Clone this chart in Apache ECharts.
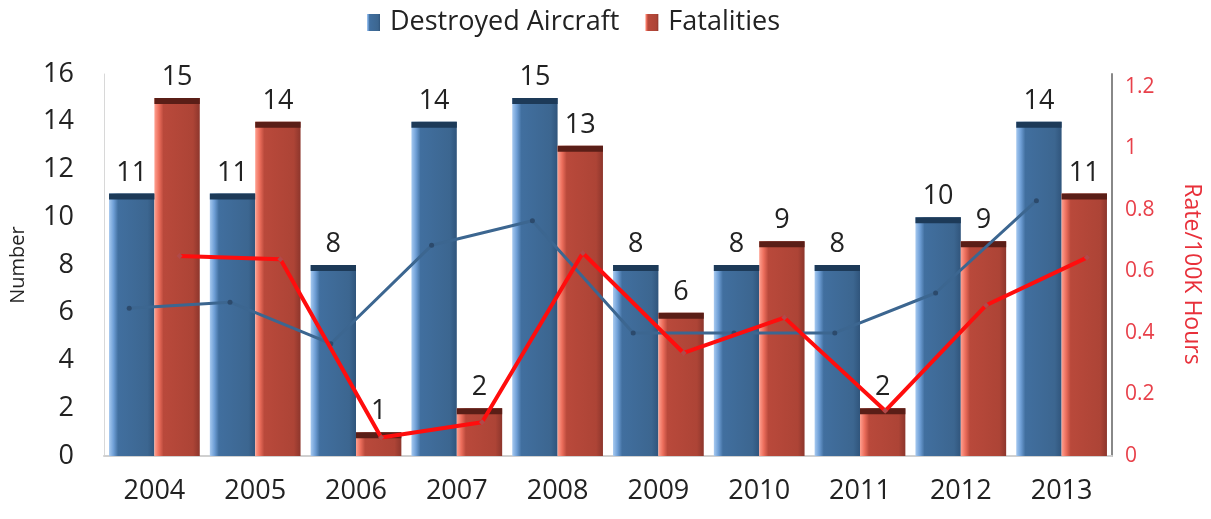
<!DOCTYPE html>
<html><head><meta charset="utf-8">
<script src="https://cdn.jsdelivr.net/npm/echarts@6/dist/echarts.min.js"></script>
<style>html,body{margin:0;padding:0;background:#fff}#c{width:1211px;height:519px}</style>
</head><body><div id="c"></div>
<script>
const years = ['2004','2005','2006','2007','2008','2009','2010','2011','2012','2013'];
const destroyed = [11,11,8,14,15,8,8,8,10,14];
const fatalities = [15,14,1,2,13,6,9,2,9,11];
const destroyedRate = [0.48,0.50,0.365,0.685,0.765,0.40,0.40,0.40,0.53,0.83];
const fatalRate = [0.65,0.64,0.06,0.11,0.66,0.335,0.45,0.147,0.49,0.645];
const leftTicks = {min:0, max:16, interval:2};
const rightTicks = {min:0, interval:0.2};

const slots = [];
const blueLine = [];
const redLine = [];
years.forEach((y,i)=>{
  slots.push(y+'a', y+'b');
  blueLine.push(destroyedRate[i], null);
  redLine.push(null, fatalRate[i]);
});

const FONT = '"Open Sans", sans-serif';
const blueGrad = new echarts.graphic.LinearGradient(0,0,1,0,[
  {offset:0,color:'#a6c9f0'},{offset:0.1,color:'#6f9fd6'},{offset:0.2,color:'#416f9f'},
  {offset:0.85,color:'#3c6690'},{offset:1,color:'#30557c'}]);
const redGrad = new echarts.graphic.LinearGradient(0,0,1,0,[
  {offset:0,color:'#ffa090'},{offset:0.1,color:'#ec6e5c'},{offset:0.2,color:'#b9493b'},
  {offset:0.85,color:'#ad4436'},{offset:1,color:'#8d362c'}]);

const chart = echarts.init(document.getElementById('c'));
const labelStyle = {show:true, position:'top', distance:7, color:'#222', fontSize:27, fontFamily:FONT};
chart.setOption({
  animation:false,
  textStyle:{fontFamily:FONT},
  legend:{
    data:['Destroyed Aircraft','Fatalities'], top:4, left:362,
    icon:'rect', itemWidth:13, itemHeight:17, itemGap:26,
    textStyle:{fontSize:27, color:'#222', fontFamily:FONT, padding:[0,0,0,5]}
  },
  grid:{left:103, right:96, top:74, bottom:63},
  xAxis:[
    {type:'category', data:years, axisTick:{show:false},
     axisLine:{lineStyle:{color:'#d0d0d0', width:2}},
     axisLabel:{fontSize:27, color:'#222', margin:22, fontFamily:FONT}},
    {type:'category', data:slots, show:false}
  ],
  yAxis:[
    {type:'value', min:leftTicks.min, max:leftTicks.max, interval:leftTicks.interval,
     name:'Number', nameLocation:'middle', nameGap:76, nameRotate:90,
     nameTextStyle:{fontSize:20, color:'#222', fontFamily:FONT},
     splitLine:{show:false}, axisTick:{show:false},
     axisLine:{show:true, lineStyle:{color:'#d8d8d8', width:1}},
     axisLabel:{fontSize:27, color:'#222', margin:30, fontFamily:FONT}},
    {type:'value', min:rightTicks.min, max:1.242, interval:rightTicks.interval,
     name:'Rate/100K Hours', nameLocation:'middle', nameGap:68, nameRotate:-90,
     nameTextStyle:{fontSize:23, color:'#e8303a', fontFamily:FONT, padding:[0,0,0,18]},
     splitLine:{show:false}, axisTick:{show:false},
     axisLine:{show:true, lineStyle:{color:'#888', width:2}},
     axisLabel:{fontSize:21, color:'#e8404a', margin:13, fontFamily:FONT, showMaxLabel:false,
       formatter:v=>(Math.abs(v-1.242)<1e-6?'':String(Math.round(v*10)/10))}}
  ],
  series:[
    {name:'Destroyed Aircraft', type:'bar', data:destroyed, barGap:'0%', barCategoryGap:'10%',
     itemStyle:{color:blueGrad}, label:labelStyle},
    {name:'Fatalities', type:'bar', data:fatalities, barGap:'0%', barCategoryGap:'10%',
     itemStyle:{color:redGrad}, label:labelStyle},
    {name:'capB', type:'pictorialBar', data:destroyed, barGap:'0%', barCategoryGap:'10%',
     symbol:'rect', symbolSize:['100%',6], symbolPosition:'end', symbolOffset:[0,0],
     itemStyle:{color:'#1d3a58'}, z:3},
    {name:'capR', type:'pictorialBar', data:fatalities, barGap:'0%', barCategoryGap:'10%',
     symbol:'rect', symbolSize:['100%',6], symbolPosition:'end', symbolOffset:[0,0],
     itemStyle:{color:'#5a1e17'}, z:3},
    {name:'Destroyed Rate', type:'line', xAxisIndex:1, yAxisIndex:1, data:blueLine, connectNulls:true,
     symbol:'circle', symbolSize:5, lineStyle:{color:'#3c6690', width:3},
     itemStyle:{color:'#2c4a6c'}, z:5},
    {name:'Fatal Rate', type:'line', xAxisIndex:1, yAxisIndex:1, data:redLine, connectNulls:true,
     symbol:'diamond', symbolSize:6, lineStyle:{color:'#ff0d0d', width:4},
     itemStyle:{color:'#b04a4a'}, z:6}
  ]
});
</script></body></html>
